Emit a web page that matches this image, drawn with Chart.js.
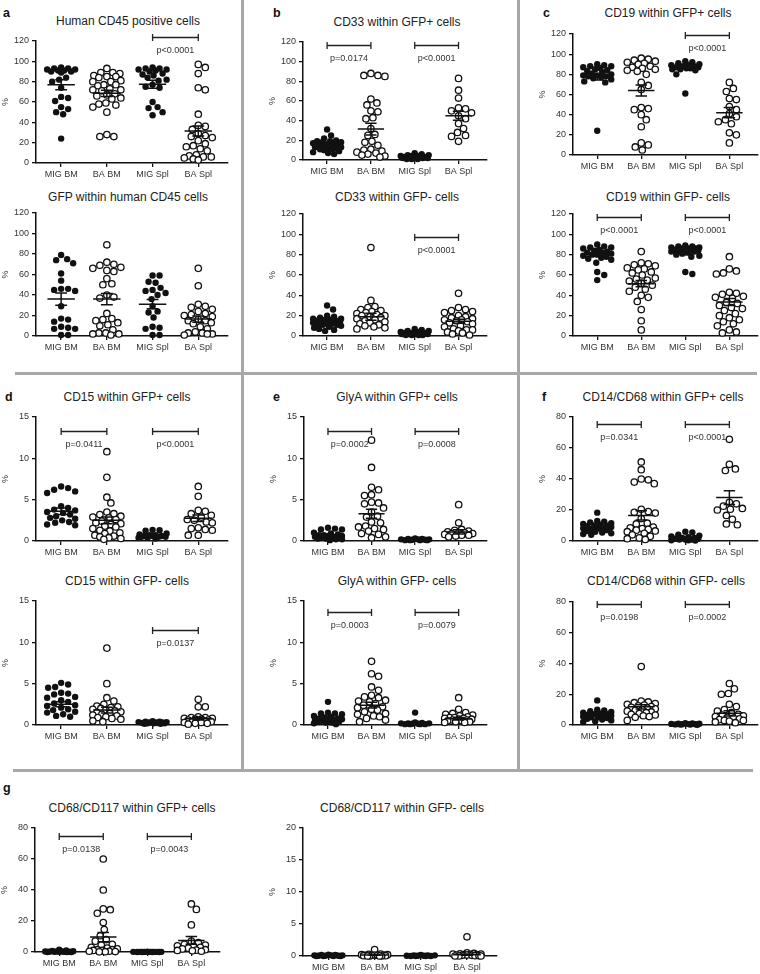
<!DOCTYPE html>
<html>
<head>
<meta charset="utf-8">
<script src="https://cdn.jsdelivr.net/npm/chart.js@4.4.1/dist/chart.umd.min.js"></script>
<style>
body { margin: 0; background: #fff; width: 760px; height: 974px; position: relative; overflow: hidden; font-family: "Liberation Sans", Arial, sans-serif; }
canvas { position: absolute; }
.title { position: absolute; transform: translate(-50%, -50%); font-size: 12px; color: #222; white-space: nowrap; }
.letter { position: absolute; transform: translate(0, -50%); font-size: 12.5px; font-weight: bold; color: #111; }
.sep { position: absolute; background: #a8a8a8; }
</style>
</head>
<body>
<div class="sep" style="left:241px;top:0;width:2.5px;height:771px"></div>
<div class="sep" style="left:517px;top:0;width:2.5px;height:771px"></div>
<div class="sep" style="left:15px;top:372px;width:742px;height:2.5px"></div>
<div class="sep" style="left:13px;top:769px;width:740px;height:2.5px"></div>
<script>
// Categories
var cats = ['MIG BM', 'BA BM', 'MIG Spl', 'BA Spl'];

// a - Human CD45 positive cells
var cd45Pos = [
    [94, 93, 93, 92, 92, 91, 91, 90, 90, 89, 84, 82, 80, 74, 65, 64, 61, 55, 53, 50, 48, 24],
    [93, 89, 89, 88, 86, 85, 85, 84, 81, 80, 80, 77, 77, 76, 73, 72, 72, 71, 68, 67, 66, 64, 63, 59, 58, 57, 55, 50, 28, 26, 26],
    [94, 93, 93, 92, 92, 91, 90, 88, 87, 86, 84, 82, 81, 77, 75, 74, 60, 55, 54, 50, 47],
    [97, 94, 88, 74, 72, 48, 37, 36, 33, 29, 27, 26, 25, 22, 19, 17, 16, 14, 12, 8, 7, 6, 6, 5, 4, 3]
];
var cd45PosMean = [77, 68.5, 77.5, 31.5];
var cd45PosSem = [5, 3, 4, 5];
var cd45PosP = [null, 'p<0.0001'];

// a - GFP within human CD45 cells
var gfpCd45 = [
    [79, 75, 74, 71, 61, 54, 46, 46, 45, 44, 29, 17, 16, 14, 9, 8, 7, 7, 1, 1],
    [89, 72, 70, 69, 67, 66, 64, 63, 56, 51, 50, 40, 38, 37, 22, 17, 16, 15, 13, 11, 10, 6, 3, 3, 2, 2, 1],
    [59, 59, 53, 52, 47, 45, 44, 42, 40, 36, 29, 24, 23, 18, 9, 8, 7, 1, 1],
    [66, 49, 31, 29, 28, 26, 24, 22, 21, 20, 19, 16, 15, 15, 13, 12, 9, 7, 4, 3, 3, 2, 2, 1]
];
var gfpCd45Mean = [36, 36, 31, 16.5];
var gfpCd45Sem = [6, 5.5, 4.5, 3];
var gfpCd45P = [null, null];

// b - CD33 within GFP+ / GFP- cells
var cd33Pos = [
    [31, 25, 22, 20, 19, 19, 18, 18, 17, 16, 16, 15, 15, 14, 14, 13, 13, 12, 12, 11, 11, 10, 9, 8, 7, 6],
    [88, 86, 86, 85, 62, 58, 56, 50, 49, 43, 42, 32, 26, 25, 19, 18, 15, 11, 10, 9, 8, 7, 6, 5, 4, 3],
    [7, 6, 5, 5, 4, 4, 4, 3, 3, 3, 3, 2, 2, 2, 2, 1, 1, 1],
    [83, 71, 63, 53, 52, 50, 48, 45, 42, 37, 32, 28, 25, 24, 19]
];
var cd33PosMean = [14.5, 31.5, 3, 45];
var cd33PosSem = [1, 6, 0.4, 4.5];
var cd33PosP = ['p=0.0174', 'p<0.0001'];

var cd33Neg = [
    [30, 26, 20, 19, 18, 17, 17, 16, 16, 15, 15, 14, 14, 13, 13, 12, 12, 11, 11, 10, 9, 8, 7, 6, 5],
    [87, 35, 29, 28, 26, 25, 24, 23, 22, 21, 20, 20, 19, 18, 17, 16, 15, 14, 13, 12, 11, 10, 9, 8, 7],
    [7, 6, 5, 5, 4, 4, 3, 3, 3, 3, 2, 2, 2, 2, 1, 1, 1, 1],
    [42, 28, 26, 25, 24, 23, 20, 19, 18, 17, 16, 16, 15, 14, 13, 12, 10, 9, 7, 6, 6, 5, 4, 3, 2, 1]
];
var cd33NegMean = [13, 19, 3, 14.5];
var cd33NegSem = [1.3, 3.5, 0.4, 2];
var cd33NegP = [null, 'p<0.0001'];

// c - CD19 within GFP+ / GFP- cells
var cd19Pos = [
    [90, 89, 88, 88, 87, 86, 85, 84, 83, 82, 81, 80, 79, 79, 78, 78, 77, 76, 75, 73, 72, 24],
    [96, 95, 94, 93, 92, 91, 90, 88, 87, 86, 85, 84, 83, 80, 72, 69, 65, 47, 46, 45, 40, 35, 28, 12, 10, 8, 5],
    [93, 92, 91, 90, 89, 89, 88, 88, 87, 87, 86, 86, 85, 85, 84, 80, 61],
    [72, 66, 63, 56, 55, 48, 45, 41, 38, 35, 33, 31, 22, 20, 12]
];
var cd19PosMean = [77.5, 64, 87.5, 42];
var cd19PosSem = [3, 5.5, 1.5, 5];
var cd19PosP = [null, 'p<0.0001'];

var cd19Neg = [
    [90, 88, 87, 87, 86, 85, 84, 83, 82, 82, 81, 80, 80, 79, 78, 77, 76, 75, 72, 63, 60, 55],
    [83, 72, 71, 70, 69, 67, 66, 65, 63, 62, 60, 57, 56, 55, 54, 52, 50, 48, 46, 44, 40, 38, 34, 26, 15, 6],
    [89, 88, 88, 87, 87, 86, 86, 86, 85, 85, 84, 84, 84, 83, 83, 82, 81, 80, 79, 78, 63, 61],
    [78, 66, 64, 62, 61, 43, 42, 41, 39, 38, 37, 33, 32, 30, 28, 27, 25, 22, 20, 18, 16, 14, 12, 10, 6, 4, 3]
];
var cd19NegMean = [81, 51.5, 82.5, 33.5];
var cd19NegSem = [2, 3, 1.5, 3.5];
var cd19NegP = ['p<0.0001', 'p<0.0001'];

// d - CD15 within GFP+ / GFP- cells
var cd15Pos = [
    [6.6, 6.4, 6.2, 6.0, 5.8, 4.2, 4.0, 3.8, 3.7, 3.5, 3.4, 3.2, 3.0, 2.8, 2.7, 2.5, 2.3, 2.2, 2.0, 1.9],
    [10.8, 7.7, 5.3, 4.6, 3.5, 3.3, 3.2, 3.0, 2.9, 2.8, 2.6, 2.4, 2.2, 2.1, 2.0, 1.8, 1.7, 1.5, 1.3, 1.2, 1.0, 0.9, 0.7, 0.6, 0.5, 0.4, 0.3, 0.2],
    [1.35, 1.3, 1.25, 0.9, 0.8, 0.7, 0.7, 0.6, 0.6, 0.6, 0.5, 0.5, 0.5, 0.4, 0.4, 0.3],
    [6.6, 5.4, 3.7, 3.6, 3.3, 3.1, 2.9, 2.6, 2.5, 2.3, 2.2, 1.6, 1.5, 1.4, 1.3, 0.7, 0.7]
];
var cd15PosMean = [3.6, 2.5, 0.6, 2.75];
var cd15PosSem = [0.4, 0.4, 0.1, 0.4];
var cd15PosP = ['p=0.0411', 'p<0.0001'];

var cd15Neg = [
    [5.1, 4.9, 4.6, 4.5, 3.9, 3.8, 3.7, 3.4, 3.3, 3.0, 2.8, 2.6, 2.4, 2.3, 2.1, 1.9, 1.8, 1.6, 1.5, 1.3, 1.1, 1.0],
    [9.3, 5.0, 3.3, 2.9, 2.5, 2.3, 2.2, 2.1, 2.0, 1.9, 1.8, 1.7, 1.6, 1.5, 1.4, 1.3, 1.2, 1.1, 1.0, 0.9, 0.8, 0.7, 0.5, 0.4],
    [0.45, 0.4, 0.4, 0.35, 0.35, 0.3, 0.3, 0.3, 0.25, 0.25, 0.2, 0.2, 0.2, 0.15, 0.15],
    [3.1, 2.2, 2.2, 1.0, 0.9, 0.9, 0.8, 0.8, 0.7, 0.7, 0.6, 0.6, 0.5, 0.5, 0.4, 0.4, 0.3, 0.3, 0.2, 0.2, 0.1]
];
var cd15NegMean = [2.5, 1.8, 0.28, 0.75];
var cd15NegSem = [0.3, 0.35, 0.03, 0.15];
var cd15NegP = [null, 'p=0.0137'];

// e - GlyA within GFP+ / GFP- cells
var glyAPos = [
    [1.6, 1.5, 1.4, 1.4, 1.0, 0.9, 0.8, 0.7, 0.7, 0.6, 0.6, 0.5, 0.5, 0.5, 0.4, 0.4, 0.3, 0.3, 0.2, 0.2, 0.1],
    [12.2, 8.9, 6.5, 6.2, 5.6, 5.5, 4.7, 4.6, 4.5, 4.0, 3.5, 3.0, 2.9, 2.3, 2.2, 1.8, 1.7, 1.5, 1.4, 1.2, 0.9, 0.8, 0.5, 0.4],
    [0.3, 0.25, 0.25, 0.2, 0.2, 0.2, 0.15, 0.15, 0.1, 0.1, 0.1, 0.1],
    [4.4, 2.2, 1.4, 1.3, 1.2, 1.1, 1.0, 1.0, 0.9, 0.9, 0.8, 0.7, 0.7, 0.6, 0.5]
];
var glyAPosMean = [0.5, 3.3, 0.17, 1.1];
var glyAPosSem = [0.1, 0.55, 0.02, 0.25];
var glyAPosP = ['p=0.0002', 'p=0.0008'];

var glyANeg = [
    [2.8, 1.5, 1.4, 1.4, 1.3, 1.1, 1.0, 0.9, 0.8, 0.8, 0.7, 0.6, 0.6, 0.5, 0.5, 0.4, 0.4, 0.3, 0.3, 0.2, 0.1],
    [7.7, 6.2, 5.9, 4.6, 4.2, 3.6, 3.4, 3.3, 3.0, 2.9, 2.8, 2.6, 2.4, 2.2, 2.1, 1.9, 1.8, 1.6, 1.4, 1.3, 1.1, 1.0, 0.8, 0.6, 0.4],
    [1.5, 0.3, 0.25, 0.2, 0.2, 0.2, 0.15, 0.15, 0.1, 0.1, 0.1, 0.1],
    [3.3, 1.9, 1.5, 1.4, 1.3, 1.2, 1.1, 1.0, 0.9, 0.9, 0.8, 0.8, 0.7, 0.7, 0.6, 0.6, 0.5, 0.5, 0.4, 0.4, 0.3, 0.3]
];
var glyANegMean = [0.68, 2.4, 0.2, 0.75];
var glyANegSem = [0.12, 0.35, 0.1, 0.15];
var glyANegP = ['p=0.0003', 'p=0.0079'];

// f - CD14/CD68 within GFP+ / GFP- cells
var cd14Pos = [
    [18.3, 13, 12.5, 12, 11.5, 11, 10.5, 10, 9.8, 9.5, 9, 8.6, 8.2, 8, 7.5, 7, 6.5, 6, 5.5, 5, 4.5, 4],
    [51, 46, 40, 39.5, 38, 37, 20.5, 19, 18.5, 18, 14.5, 11.5, 11, 9, 8.5, 8, 7.5, 7, 6.5, 6, 5, 4, 3, 2, 1.5, 1],
    [6, 5.5, 4, 3.5, 3, 2.5, 2, 2, 1.5, 1.5, 1, 1, 1, 0.5, 0.5, 0.3],
    [65.6, 49.5, 46.5, 45.5, 25, 24, 22.5, 21, 20.5, 20, 16.5, 14, 11, 10.5]
];
var cd14PosMean = [9.2, 16.5, 1.8, 28];
var cd14PosSem = [0.9, 3, 0.5, 4.5];
var cd14PosP = ['p=0.0341', 'p<0.0001'];

var cd14Neg = [
    [16, 10, 9.5, 9, 8.5, 8, 7.5, 7, 7, 6.5, 6, 6, 5.5, 5, 5, 4.5, 4, 3.5, 3, 2.5, 2],
    [38, 15.5, 15, 14.5, 14, 13.5, 13, 12.5, 12, 11.5, 11, 10.5, 10, 9.5, 9, 8.5, 8, 7.5, 7, 6.5, 6, 5.5, 5, 3],
    [1.2, 1.0, 0.9, 0.8, 0.7, 0.6, 0.5, 0.5, 0.4, 0.3, 0.3, 0.2],
    [27, 23.5, 20.5, 20, 13.5, 12, 10, 9, 8, 7, 6.5, 6, 5.5, 5, 4.5, 4, 3.5, 3, 3, 2.5, 2, 1.5]
];
var cd14NegMean = [6.5, 11.8, 0.5, 7.6];
var cd14NegSem = [0.7, 1.4, 0.1, 1.7];
var cd14NegP = ['p=0.0198', 'p=0.0002'];

// g - CD68/CD117 within GFP+ / GFP- cells
var cd68Pos = [
    [1.5, 1.0, 0.6, 0.5, 0.4, 0.3, 0.3, 0.2, 0.2, 0.1, 0.1, 0.1, 0, 0, 0],
    [60, 40, 27.8, 27.3, 25, 19, 14.5, 10.5, 8, 7, 5, 4.5, 3, 2.5, 2, 1.5, 1.5, 1, 1, 0.5, 0.5, 0.3, 0.2, 0.1],
    [0.2, 0.1, 0.1, 0.1, 0.1, 0.05, 0.05, 0.05, 0, 0, 0, 0],
    [31, 27.5, 17.5, 7, 6, 5, 4.5, 4, 3.5, 3, 2.5, 2, 1.5, 1.2, 1, 0.8, 0.5]
];
var cd68PosMean = [0.3, 9.6, 0.05, 7.5];
var cd68PosSem = [0.1, 3, 0.02, 2.5];
var cd68PosP = ['p=0.0138', 'p=0.0043'];

var cd68Neg = [
    [0.2, 0.15, 0.15, 0.1, 0.1, 0.1, 0.05, 0.05, 0.05, 0, 0, 0, 0],
    [1.0, 0.3, 0.25, 0.2, 0.2, 0.15, 0.15, 0.1, 0.1, 0.1, 0.05, 0.05, 0, 0, 0, 0],
    [0.15, 0.1, 0.1, 0.1, 0.05, 0.05, 0.05, 0, 0, 0, 0],
    [3.0, 0.5, 0.4, 0.35, 0.3, 0.3, 0.25, 0.2, 0.2, 0.15, 0.15, 0.1, 0.1, 0.05, 0.05, 0, 0, 0]
];
var cd68NegMean = [0.05, 0.15, 0.05, 0.2];
var cd68NegSem = [0.02, 0.05, 0.02, 0.1];
var cd68NegP = [null, null];

// Layout of each small chart (pixel positions of axes)
var panels = [
    { letter: 'a', lx: 3, ly: 13, title: 'Human CD45 positive cells', tx: 128, ty: 21, data: cd45Pos, mean: cd45PosMean, sem: cd45PosSem, p: cd45PosP, yMax: 120, step: 20, x0: 36, x1: 228, yTop: 41, yZero: 163, pLevel: 124 },
    { title: 'GFP within human CD45 cells', tx: 128, ty: 197, data: gfpCd45, mean: gfpCd45Mean, sem: gfpCd45Sem, p: gfpCd45P, yMax: 120, step: 20, x0: 36, x1: 228, yTop: 213, yZero: 336, pLevel: 120 },
    { letter: 'b', lx: 273, ly: 13, title: 'CD33 within GFP+ cells', tx: 397, ty: 22, data: cd33Pos, mean: cd33PosMean, sem: cd33PosSem, p: cd33PosP, yMax: 120, step: 20, x0: 303, x1: 487, yTop: 42, yZero: 160, pLevel: 117 },
    { title: 'CD33 within GFP- cells', tx: 397, ty: 197, data: cd33Neg, mean: cd33NegMean, sem: cd33NegSem, p: cd33NegP, yMax: 120, step: 20, x0: 303, x1: 487, yTop: 214, yZero: 336, pLevel: 97 },
    { letter: 'c', lx: 543, ly: 13, title: 'CD19 within GFP+ cells', tx: 668, ty: 13, data: cd19Pos, mean: cd19PosMean, sem: cd19PosSem, p: cd19PosP, yMax: 120, step: 20, x0: 573, x1: 758, yTop: 34, yZero: 155, pLevel: 119 },
    { title: 'CD19 within GFP- cells', tx: 668, ty: 197, data: cd19Neg, mean: cd19NegMean, sem: cd19NegSem, p: cd19NegP, yMax: 120, step: 20, x0: 573, x1: 758, yTop: 214, yZero: 336, pLevel: 117 },
    { letter: 'd', lx: 5, ly: 397, title: 'CD15 within GFP+ cells', tx: 127, ty: 397, data: cd15Pos, mean: cd15PosMean, sem: cd15PosSem, p: cd15PosP, yMax: 15, step: 5, x0: 36, x1: 228, yTop: 417, yZero: 541, pLevel: 13.3 },
    { title: 'CD15 within GFP- cells', tx: 127, ty: 581, data: cd15Neg, mean: cd15NegMean, sem: cd15NegSem, p: cd15NegP, yMax: 15, step: 5, x0: 36, x1: 228, yTop: 601, yZero: 725, pLevel: 11.5 },
    { letter: 'e', lx: 273, ly: 397, title: 'GlyA within GFP+ cells', tx: 397, ty: 397, data: glyAPos, mean: glyAPosMean, sem: glyAPosSem, p: glyAPosP, yMax: 15, step: 5, x0: 304, x1: 487, yTop: 417, yZero: 541, pLevel: 13.3 },
    { title: 'GlyA within GFP- cells', tx: 397, ty: 581, data: glyANeg, mean: glyANegMean, sem: glyANegSem, p: glyANegP, yMax: 15, step: 5, x0: 304, x1: 487, yTop: 601, yZero: 725, pLevel: 13.7 },
    { letter: 'f', lx: 542, ly: 397, title: 'CD14/CD68 within GFP+ cells', tx: 663, ty: 397, data: cd14Pos, mean: cd14PosMean, sem: cd14PosSem, p: cd14PosP, yMax: 80, step: 20, x0: 573, x1: 758, yTop: 417, yZero: 541, pLevel: 75.5 },
    { title: 'CD14/CD68 within GFP- cells', tx: 666, ty: 581, data: cd14Neg, mean: cd14NegMean, sem: cd14NegSem, p: cd14NegP, yMax: 80, step: 20, x0: 573, x1: 758, yTop: 602, yZero: 725, pLevel: 78.7 },
    { letter: 'g', lx: 3, ly: 788, title: 'CD68/CD117 within GFP+ cells', tx: 132, ty: 808, data: cd68Pos, mean: cd68PosMean, sem: cd68PosSem, p: cd68PosP, yMax: 80, step: 20, x0: 35, x1: 220, yTop: 828, yZero: 952, pLevel: 75 },
    { title: 'CD68/CD117 within GFP- cells', tx: 402, ty: 808, data: cd68Neg, mean: cd68NegMean, sem: cd68NegSem, p: cd68NegP, yMax: 20, step: 5, x0: 303, x1: 497, yTop: 828, yZero: 956, pLevel: 20 }
];

var FONT = '"Liberation Sans", Arial, sans-serif';
var INK = '#111';
var R = 3.2;

// Brackets with p values, placed through the chart scales
var bracketPlugin = {
    id: 'brackets',
    afterDatasetsDraw: function (chart, args, opts) {
        var ctx = chart.ctx, x = chart.scales.x, y = chart.scales.y;
        (opts.p || []).forEach(function (txt, k) {
            if (!txt) return;
            var xa = x.getPixelForValue(2 * k + 1), xb = x.getPixelForValue(2 * k + 2);
            var yy = Math.round(y.getPixelForValue(opts.level)) + 0.5;
            ctx.save();
            ctx.strokeStyle = '#222';
            ctx.lineWidth = 1.3;
            ctx.beginPath();
            ctx.moveTo(xa, yy); ctx.lineTo(xb, yy);
            ctx.moveTo(xa, yy - 3.5); ctx.lineTo(xa, yy + 3.5);
            ctx.moveTo(xb, yy - 3.5); ctx.lineTo(xb, yy + 3.5);
            ctx.stroke();
            ctx.fillStyle = '#333';
            ctx.font = '9px ' + FONT;
            ctx.textAlign = 'center';
            ctx.textBaseline = 'middle';
            ctx.fillText(txt, (xa + xb) / 2, yy + 13);
            ctx.restore();
        });
    }
};

// Beeswarm: horizontal pixel offsets so circles do not overlap
function swarm(values, toPx, r, maxW) {
    var order = values.map(function (v, i) { return i; });
    order.sort(function (a, b) { return values[b] - values[a]; });
    var cands = [0];
    for (var k = 1; k <= maxW; k++) { cands.push(k, -k); }
    var placed = [], offs = [];
    order.forEach(function (i) {
        var py = toPx(values[i]), best = 0, bestD = -1;
        for (var c = 0; c < cands.length; c++) {
            var d = Infinity;
            for (var j = 0; j < placed.length; j++) {
                var dd = Math.hypot(placed[j].x - cands[c], placed[j].y - py);
                if (dd < d) d = dd;
            }
            if (d >= 2 * r) { best = cands[c]; break; }
            if (d > bestD) { bestD = d; best = cands[c]; }
        }
        placed.push({ x: best, y: py });
        offs[i] = best;
    });
    return offs;
}

function addText(cls, txt, x, y) {
    var el = document.createElement('div');
    el.className = cls;
    el.textContent = txt;
    el.style.left = x + 'px';
    el.style.top = y + 'px';
    document.body.appendChild(el);
}

panels.forEach(function (p) {
    if (p.letter) addText('letter', p.letter, p.lx, p.ly);
    addText('title', p.title, p.tx, p.ty);

    var padTop = 20, padRight = 6, yW = 36, xH = 26;
    var left = p.x0 - yW, top = p.yTop - padTop;
    var cv = document.createElement('canvas');
    cv.width = p.x1 + padRight - left;
    cv.height = p.yZero + xH - top;
    cv.style.left = left + 'px';
    cv.style.top = top + 'px';
    document.body.appendChild(cv);

    var datasets = [];
    p.data.forEach(function (vals, g) {
        var open = g % 2 === 1;
        datasets.push({
            data: vals.map(function (v) { return { x: g + 1, y: v }; }),
            pointRadius: R,
            pointBorderWidth: open ? 1.3 : 0,
            pointBackgroundColor: open ? '#fff' : INK,
            pointBorderColor: INK,
            clip: false,
            order: 2
        });
    });
    p.mean.forEach(function (m, g) {
        var c = g + 1, s = p.sem[g];
        datasets.push({
            showLine: true,
            data: [
                { x: c - 0.3, y: m }, { x: c + 0.3, y: m }, { x: c, y: null },
                { x: c - 0.13, y: m + s }, { x: c + 0.13, y: m + s }, { x: c, y: null },
                { x: c - 0.13, y: m - s }, { x: c + 0.13, y: m - s }, { x: c, y: null },
                { x: c, y: m - s }, { x: c, y: m + s }
            ],
            borderColor: INK,
            borderWidth: 1.5,
            pointRadius: 0,
            clip: false,
            order: 1
        });
    });

    var axisGrid = { display: true, drawOnChartArea: false, drawTicks: true, tickLength: 4, color: INK, lineWidth: 1.3 };
    var axisBorder = { display: true, color: INK, width: 1.5 };

    var chart = new Chart(cv, {
        type: 'scatter',
        data: { datasets: datasets },
        options: {
            responsive: false,
            animation: false,
            devicePixelRatio: 1,
            layout: { padding: { top: padTop, right: padRight, left: 0, bottom: 0 } },
            plugins: {
                legend: { display: false },
                tooltip: { enabled: false },
                brackets: { p: p.p, level: p.pLevel }
            },
            scales: {
                x: {
                    type: 'linear',
                    min: 0.45,
                    max: 4.65,
                    afterBuildTicks: function (s) { s.ticks = [1, 2, 3, 4].map(function (v) { return { value: v }; }); },
                    afterFit: function (s) { s.height = xH; },
                    ticks: {
                        callback: function (v) { return cats[v - 1]; },
                        font: { size: 9, family: FONT },
                        color: '#333',
                        padding: 2,
                        maxRotation: 0,
                        autoSkip: false
                    },
                    grid: axisGrid,
                    border: axisBorder
                },
                y: {
                    min: 0,
                    max: p.yMax,
                    afterFit: function (s) { s.width = yW; },
                    ticks: { stepSize: p.step, font: { size: 9, family: FONT }, color: '#333', padding: 3 },
                    grid: axisGrid,
                    border: axisBorder,
                    title: { display: true, text: '%', font: { size: 9, family: FONT }, color: '#333', padding: 0 }
                }
            }
        },
        plugins: [bracketPlugin]
    });

    // spread the dots of each group sideways, using the chart's own scales
    var xs = chart.scales.x, ys = chart.scales.y;
    var pxPerUnit = xs.getPixelForValue(2) - xs.getPixelForValue(1);
    p.data.forEach(function (vals, g) {
        var offs = swarm(vals, function (v) { return ys.getPixelForValue(v); }, R + 0.3, 14);
        chart.data.datasets[g].data = vals.map(function (v, i) {
            return { x: g + 1 + offs[i] / pxPerUnit, y: v };
        });
    });
    chart.update('none');
});
</script>
</body>
</html>
